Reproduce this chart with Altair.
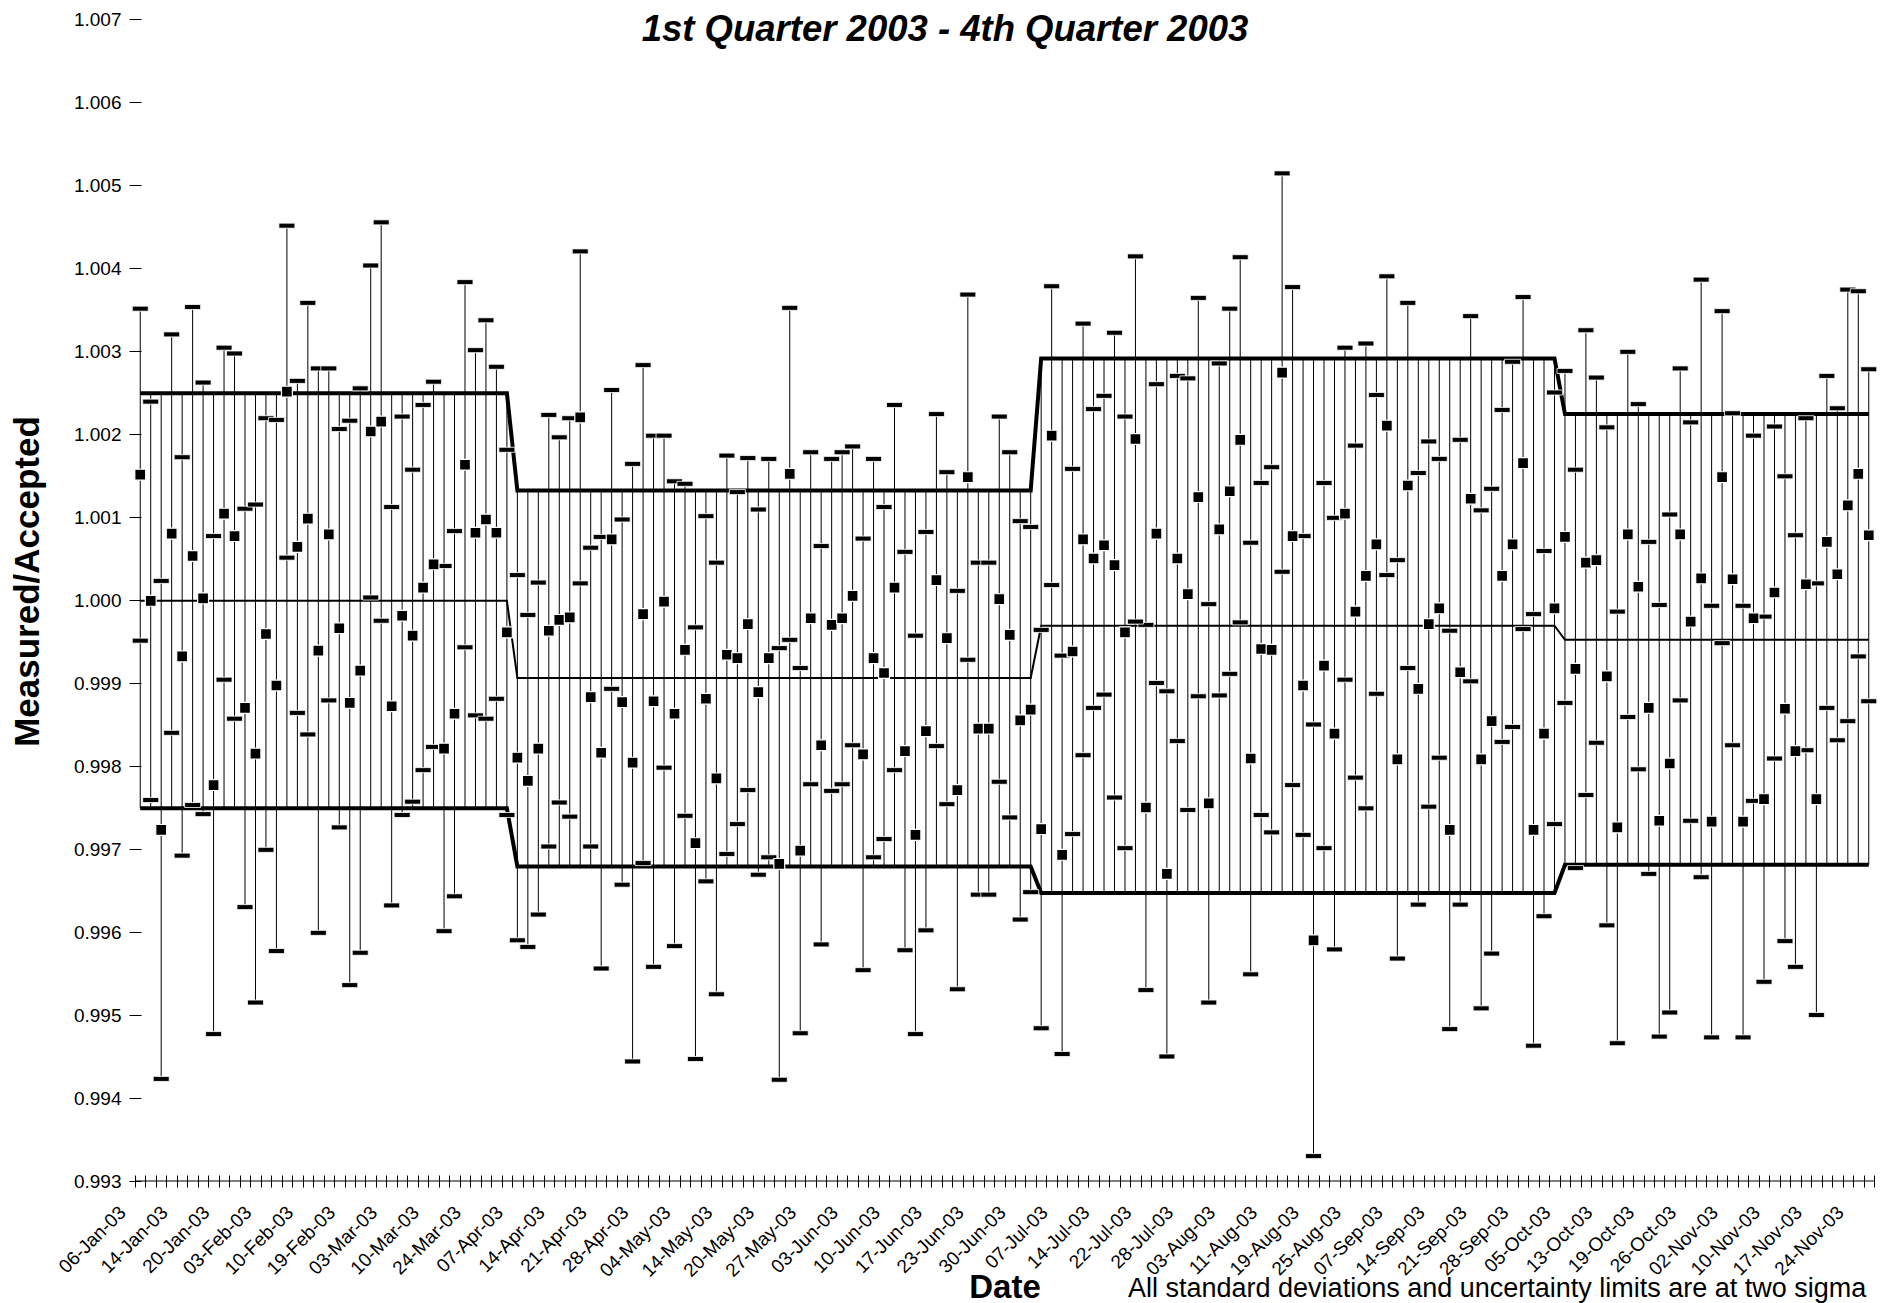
import json
import altair as alt
import pandas as pd

# ---- data ----
date_labels = ["06-Jan-03", "14-Jan-03", "20-Jan-03", "03-Feb-03", "10-Feb-03", "19-Feb-03",
               "03-Mar-03", "10-Mar-03", "24-Mar-03", "07-Apr-03", "14-Apr-03", "21-Apr-03",
               "28-Apr-03", "04-May-03", "14-May-03", "20-May-03", "27-May-03", "03-Jun-03",
               "10-Jun-03", "17-Jun-03", "23-Jun-03", "30-Jun-03", "07-Jul-03", "14-Jul-03",
               "22-Jul-03", "28-Jul-03", "03-Aug-03", "11-Aug-03", "19-Aug-03", "25-Aug-03",
               "07-Sep-03", "14-Sep-03", "21-Sep-03", "28-Sep-03", "05-Oct-03", "13-Oct-03",
               "19-Oct-03", "26-Oct-03", "02-Nov-03", "10-Nov-03", "17-Nov-03", "24-Nov-03"]

measured = [
    1.00151, 0.99999, 0.99723, 1.00080, 0.99932, 1.00053, 1.00002, 0.99777, 1.00104, 1.00077,
    0.99870, 0.99815, 0.99959, 0.99897, 1.00251, 1.00064, 1.00098, 0.99939, 1.00079, 0.99966,
    0.99876, 0.99915, 1.00203, 1.00215, 0.99872, 0.99981, 0.99957, 1.00015, 1.00043, 0.99821,
    0.99863, 1.00163, 1.00081, 1.00097, 1.00081, 0.99961, 0.99810, 0.99782, 0.99821, 0.99963,
    0.99976, 0.99979, 1.00220, 0.99883, 0.99816, 1.00073, 0.99877, 0.99804, 0.99983, 0.99878,
    0.99998, 0.99863, 0.99940, 0.99707, 0.99881, 0.99785, 0.99934, 0.99930, 0.99971, 0.99889,
    0.99930, 0.99682, 1.00152, 0.99698, 0.99978, 0.99825, 0.99970, 0.99978, 1.00005, 0.99814,
    0.99930, 0.99912, 1.00015, 0.99818, 0.99717, 0.99842, 1.00024, 0.99954, 0.99771, 1.00148,
    0.99845, 0.99845, 1.00001, 0.99958, 0.99855, 0.99868, 0.99724, 1.00198, 0.99693, 0.99938,
    1.00073, 1.00050, 1.00066, 1.00042, 0.99961, 1.00194, 0.99750, 1.00080, 0.99670, 1.00050,
    1.00007, 1.00124, 0.99755, 1.00085, 1.00131, 1.00193, 0.99809, 0.99941, 0.99940, 1.00274,
    1.00077, 0.99897, 0.99590, 0.99921, 0.99839, 1.00104, 0.99986, 1.00029, 1.00067, 1.00210,
    0.99808, 1.00138, 0.99893, 0.99971, 0.99990, 0.99723, 0.99913, 1.00122, 0.99808, 0.99854,
    1.00029, 1.00067, 1.00165, 0.99723, 0.99839, 0.99990, 1.00076, 0.99917, 1.00045, 1.00048,
    0.99908, 0.99726, 1.00079, 1.00016, 0.99870, 0.99734, 0.99803, 1.00079, 0.99974, 1.00026,
    0.99733, 1.00148, 1.00025, 0.99733, 0.99978, 0.99760, 1.00009, 0.99869, 0.99818, 1.00019,
    0.99760, 1.00070, 1.00031, 1.00114, 1.00152, 1.00078,
]

# uncertainty (two sigma), in units of 0.001
uncertainty = [
    2.0, 2.4, 3.0, 2.4, 2.4, 3.0, 2.6, 3.0, 2.0, 2.2,
    2.4, 3.0, 2.6, 3.2, 2.0, 2.0, 2.6, 3.4, 2.0, 2.4,
    3.4, 3.4, 2.0, 2.4, 2.4, 2.4, 2.0, 2.2, 2.2, 2.2,
    2.2, 2.2, 2.2, 2.4, 2.0, 2.2, 2.2, 2.0, 2.0, 2.6,
    2.2, 2.4, 2.0, 1.8, 2.6, 1.8, 2.2, 3.6, 3.0, 3.2,
    2.0, 2.8, 2.0, 2.6, 2.2, 2.6, 2.4, 2.0, 2.0, 2.2,
    2.4, 2.6, 2.0, 2.2, 2.0, 2.4, 2.0, 2.0, 1.8, 2.6,
    2.4, 2.0, 2.2, 2.4, 2.4, 2.4, 2.0, 2.0, 2.4, 2.2,
    2.0, 2.0, 2.2, 2.2, 2.4, 2.2, 2.4, 1.8, 2.4, 2.2,
    2.6, 1.8, 1.8, 2.8, 2.6, 2.2, 2.2, 1.8, 2.2, 2.2,
    2.6, 2.4, 2.4, 2.0, 2.2, 2.2, 2.6, 2.0, 2.2, 2.4,
    3.0, 1.8, 2.6, 2.2, 2.6, 2.0, 2.0, 2.8, 1.8, 1.8,
    2.4, 2.2, 2.6, 2.2, 1.8, 2.4, 2.8, 2.2, 3.0, 2.8,
    2.0, 2.2, 2.0, 2.6, 2.2, 2.6, 2.0, 2.4, 2.8, 2.2,
    3.0, 2.6, 2.2, 2.2, 2.0, 2.6, 3.0, 2.0, 2.4, 3.6,
    2.6, 2.0, 2.0, 2.6, 2.2, 2.2, 2.0, 2.8, 2.6, 2.0,
    2.6, 2.0, 2.0, 2.6, 2.2, 2.0,
]

quarter_counts = [36, 50, 50, 30]
quarter_ucl = [1.00249, 1.00132, 1.00291, 1.00224]
quarter_mean = [0.99999, 0.99906, 0.99969, 0.99952]
quarter_lcl = [0.99749, 0.99679, 0.99647, 0.99681]

y_min, y_max = 0.993, 1.007
y_ticks = [round(y_min + 0.001 * k, 3) for k in range(15)]
title_text = "1st Quarter 2003 - 4th Quarter 2003"
note_text = "All standard deviations and uncertainty limits are at two sigma"

# ---- build table ----
rows = []
idx = 0
for q, n in enumerate(quarter_counts):
    for _ in range(n):
        v = measured[idx]
        u = uncertainty[idx] * 0.001
        rows.append(dict(i=idx, v=v, hi=v + u, lo=v - u,
                         ucl=quarter_ucl[q], mean=quarter_mean[q], lcl=quarter_lcl[q]))
        idx += 1
df = pd.DataFrame(rows)
df["top"] = df[["hi", "ucl"]].max(axis=1)
df["bot"] = df[["lo", "lcl"]].min(axis=1)

n_cat = len(measured)
FONT = "Liberation Sans"

boundaries = [k - 0.5 for k in range(n_cat + 1)]
centers = [4 * k for k in range(len(date_labels))]
x_values = sorted(boundaries + centers)

label_expr = ("datum.value % 1 === 0 ? " + json.dumps(date_labels) +
              "[round(datum.value / 4)] : ''")

x_scale = alt.Scale(domain=[-0.5, n_cat - 0.5], nice=False, zero=False)
y_scale = alt.Scale(domain=[y_min, y_max], nice=False, zero=False)

x_axis = alt.Axis(
    values=x_values, labelExpr=label_expr, labelAngle=-45, labelAlign="right",
    labelBaseline="middle", labelOverlap=False, labelFlush=False, labelBound=False,
    labelFont=FONT, labelFontSize=19, labelColor="black", labelOffset=-18, labelPadding=22,
    tickSize=12, tickColor="black", tickWidth=1, offset=-6, domain=False, grid=False,
    tickOpacity={"condition": {"test": "datum.value % 1 === 0", "value": 0}, "value": 1},
    title="Date", titleFont=FONT, titleFontSize=33, titleFontWeight="bold",
    titleColor="black", titleBaseline="alphabetic", titleY=122,
)
y_axis = alt.Axis(
    values=y_ticks, format=".3f", labelFont=FONT, labelFontSize=19, labelColor="black",
    labelPadding=8, labelFlush=False, tickSize=12, tickColor="black", tickWidth=1,
    offset=-6, domain=False, grid=False,
    title="Measured/Accepted", titleFont=FONT, titleFontSize=35, titleFontWeight="bold",
    titleColor="black", titlePadding=28, titleY=562,
)


def X(field="i"):
    return alt.X(field, type="quantitative", scale=x_scale, axis=x_axis)


def Y(field):
    return alt.Y(field, type="quantitative", scale=y_scale, axis=y_axis)


base = alt.Chart(df)

hl_lines = base.mark_rule(color="black", strokeWidth=1).encode(
    x=X(), y=Y("bot"), y2="top:Q")

ucl_line = base.mark_line(color="black", strokeWidth=4).encode(x=X(), y=Y("ucl"))
lcl_line = base.mark_line(color="black", strokeWidth=4).encode(x=X(), y=Y("lcl"))
mean_line = base.mark_line(color="black", strokeWidth=2).encode(x=X(), y=Y("mean"))

tick_kw = dict(orient="horizontal", size=16, thickness=5, color="black",
               stroke="white", strokeWidth=0.8, opacity=1)
hi_ticks = base.mark_tick(**tick_kw).encode(x=X(), y=Y("hi"))
lo_ticks = base.mark_tick(**tick_kw).encode(x=X(), y=Y("lo"))
squares = base.mark_square(size=118, filled=True, color="black", stroke="white",
                           strokeWidth=1.2, opacity=1).encode(x=X(), y=Y("v"))

# category-axis base line at the bottom of the plot
axis_df = pd.DataFrame({"ax": [-0.5, n_cat - 0.5], "ay": [y_min, y_min]})
axis_line = alt.Chart(axis_df).mark_line(color="black", strokeWidth=1.2).encode(
    x=X("ax"), y=Y("ay"))

note = alt.Chart(pd.DataFrame({"note": [note_text]})).mark_text(
    align="left", baseline="alphabetic", font=FONT, fontSize=27, color="black").encode(
    text="note:N", x=alt.value(993), y=alt.value(1278))

title = alt.Chart(pd.DataFrame({"t": [title_text]})).mark_text(
    align="center", baseline="alphabetic", font=FONT, fontSize=36.5, fontWeight="bold",
    fontStyle="italic", color="black").encode(
    text="t:N", x=alt.value(810), y=alt.value(22))

chart = alt.layer(
    hl_lines, mean_line, ucl_line, lcl_line, axis_line, hi_ticks, lo_ticks, squares, note, title
).properties(
    width=1739, height=1162,
    background="white",
    autosize=alt.AutoSizeParams(type="none"),
    padding={"left": 127, "top": 11, "right": 5, "bottom": 150},
).configure_view(stroke="transparent", strokeWidth=0).configure_axis(
    domain=False, grid=False
)

chart.save("out.html", embed_options={"renderer": "svg", "actions": False})
